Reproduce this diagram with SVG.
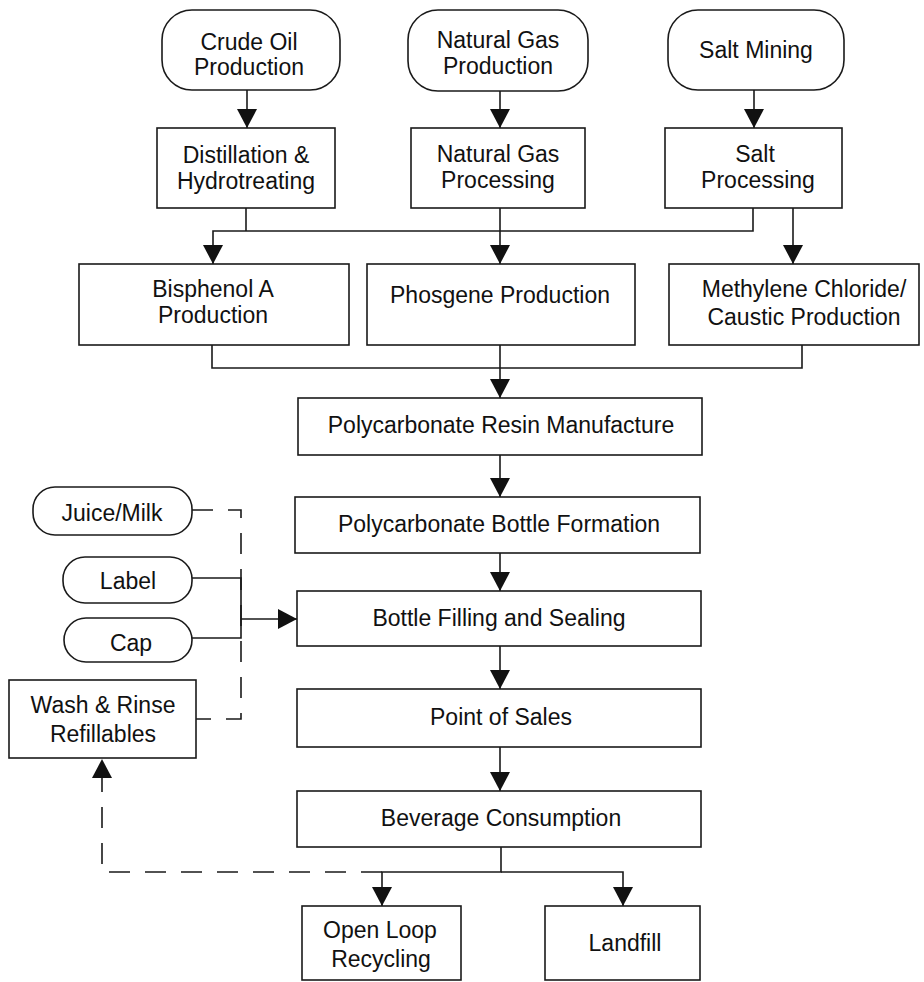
<svg xmlns="http://www.w3.org/2000/svg" width="924" height="982" viewBox="0 0 924 982">
  <style>
    .box { fill: #fff; stroke: #1a1a1a; stroke-width: 1.6; }
    .t { font-family: "Liberation Sans", Arial, Helvetica, sans-serif; font-size: 23px; text-anchor: middle; fill: #111; }
    .ln { fill: none; stroke: #1a1a1a; stroke-width: 1.6; }
    .dash { stroke-dasharray: 21 15; }
  </style>
  <defs>
    <marker id="arrow" viewBox="0 0 19 20" markerWidth="19" markerHeight="20" markerUnits="userSpaceOnUse" refX="19" refY="10" orient="auto">
      <path d="M0,0 L19,10 L0,20 Z" fill="#111"/>
    </marker>
  </defs>
  <rect width="924" height="982" fill="#fff"/>

  <!-- connectors -->
  <g id="connectors">
    <path class="ln" d="M247,90 V128" marker-end="url(#arrow)"/>
    <path class="ln" d="M500,91 V128" marker-end="url(#arrow)"/>
    <path class="ln" d="M754,90 V128" marker-end="url(#arrow)"/>
    <path class="ln" d="M246,208 V231"/>
    <path class="ln" d="M753,208 V231 H213 V264" marker-end="url(#arrow)"/>
    <path class="ln" d="M500,208 V264" marker-end="url(#arrow)"/>
    <path class="ln" d="M793,208 V264" marker-end="url(#arrow)"/>
    <path class="ln" d="M212,345 V368 H802 V345"/>
    <path class="ln" d="M500,345 V398" marker-end="url(#arrow)"/>
    <path class="ln" d="M500,455 V497" marker-end="url(#arrow)"/>
    <path class="ln" d="M500,553 V591" marker-end="url(#arrow)"/>
    <path class="ln dash" d="M192,510 H241 V719 H196"/>
    <path class="ln" d="M192,578 H241 V638 H192"/>
    <path class="ln" d="M241,619 H297" marker-end="url(#arrow)"/>
    <path class="ln" d="M500,646 V689" marker-end="url(#arrow)"/>
    <path class="ln" d="M500,747 V791" marker-end="url(#arrow)"/>
    <path class="ln" d="M501,847 V872 H382 V906" marker-end="url(#arrow)"/>
    <path class="ln" d="M501,872 H623 V906" marker-end="url(#arrow)"/>
    <path class="ln dash" d="M382,872 H102 V759" marker-end="url(#arrow)"/>
  </g>

  <!-- raw material sources -->
  <g id="crude-oil">
    <rect class="box" x="162" y="10" width="178" height="80" rx="30"/>
    <text class="t" x="249" y="50">Crude Oil</text>
    <text class="t" x="249" y="75">Production</text>
  </g>
  <g id="natural-gas">
    <rect class="box" x="408" y="10" width="180" height="81" rx="30"/>
    <text class="t" x="498" y="48">Natural Gas</text>
    <text class="t" x="498" y="74">Production</text>
  </g>
  <g id="salt-mining">
    <rect class="box" x="668" y="10" width="176" height="80" rx="30"/>
    <text class="t" x="756" y="58">Salt Mining</text>
  </g>

  <!-- primary processing -->
  <g id="distillation">
    <rect class="box" x="157" y="128" width="178" height="80"/>
    <text class="t" x="246" y="163">Distillation &amp;</text>
    <text class="t" x="246" y="189">Hydrotreating</text>
  </g>
  <g id="gas-processing">
    <rect class="box" x="411" y="128" width="174" height="80"/>
    <text class="t" x="498" y="162">Natural Gas</text>
    <text class="t" x="498" y="188">Processing</text>
  </g>
  <g id="salt-processing">
    <rect class="box" x="665" y="128" width="177" height="80"/>
    <text class="t" x="755" y="162">Salt</text>
    <text class="t" x="758" y="188">Processing</text>
  </g>

  <!-- intermediates -->
  <g id="bisphenol">
    <rect class="box" x="79" y="264" width="270" height="81"/>
    <text class="t" x="213" y="297">Bisphenol A</text>
    <text class="t" x="213" y="323">Production</text>
  </g>
  <g id="phosgene">
    <rect class="box" x="367" y="264" width="268" height="81"/>
    <text class="t" x="500" y="303">Phosgene Production</text>
  </g>
  <g id="methylene">
    <rect class="box" x="669" y="264" width="250" height="81"/>
    <text class="t" x="804" y="297">Methylene Chloride/</text>
    <text class="t" x="804" y="325">Caustic Production</text>
  </g>

  <!-- main chain -->
  <g id="resin">
    <rect class="box" x="298" y="398" width="404" height="57"/>
    <text class="t" x="501" y="433">Polycarbonate Resin Manufacture</text>
  </g>
  <g id="bottle-formation">
    <rect class="box" x="295" y="497" width="405" height="56"/>
    <text class="t" x="499" y="532">Polycarbonate Bottle Formation</text>
  </g>
  <g id="filling">
    <rect class="box" x="297" y="591" width="404" height="55"/>
    <text class="t" x="499" y="626">Bottle Filling and Sealing</text>
  </g>
  <g id="point-of-sales">
    <rect class="box" x="297" y="689" width="404" height="58"/>
    <text class="t" x="501" y="725">Point of Sales</text>
  </g>
  <g id="consumption">
    <rect class="box" x="297" y="791" width="404" height="56"/>
    <text class="t" x="501" y="826">Beverage Consumption</text>
  </g>

  <!-- filling inputs -->
  <g id="juice-milk">
    <rect class="box" x="33" y="487" width="159" height="48" rx="22"/>
    <text class="t" x="112" y="521">Juice/Milk</text>
  </g>
  <g id="label">
    <rect class="box" x="63" y="557" width="129" height="46" rx="22"/>
    <text class="t" x="128" y="589">Label</text>
  </g>
  <g id="cap">
    <rect class="box" x="64" y="618" width="128" height="44" rx="22"/>
    <text class="t" x="131" y="651">Cap</text>
  </g>
  <g id="wash-rinse">
    <rect class="box" x="9" y="680" width="187" height="78"/>
    <text class="t" x="103" y="713">Wash &amp; Rinse</text>
    <text class="t" x="103" y="742">Refillables</text>
  </g>

  <!-- end of life -->
  <g id="open-loop">
    <rect class="box" x="302" y="906" width="159" height="74"/>
    <text class="t" x="380" y="938">Open Loop</text>
    <text class="t" x="381" y="967">Recycling</text>
  </g>
  <g id="landfill">
    <rect class="box" x="545" y="906" width="155" height="74"/>
    <text class="t" x="625" y="951">Landfill</text>
  </g>
</svg>
